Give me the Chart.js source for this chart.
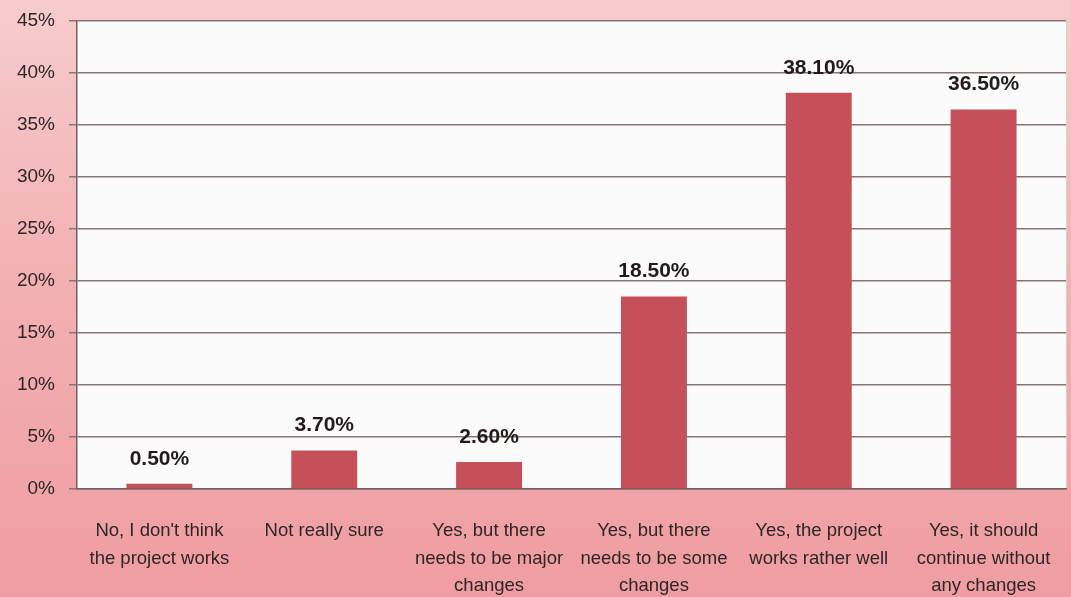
<!DOCTYPE html>
<html>
<head>
<meta charset="utf-8">
<script src="https://cdn.jsdelivr.net/npm/chart.js@4"></script>
<style>
  html, body { margin: 0; padding: 0; }
  body {
    width: 1071px; height: 597px; overflow: hidden;
    background: linear-gradient(to bottom, #f7cccd 0%, #f3b1b4 45%, #ef9da2 100%);
  }
  #wrap { position: relative; width: 1071px; height: 597px; }
</style>
</head>
<body>
<div id="wrap"><canvas id="myChart" width="1071" height="597"></canvas></div>
<script>
var answers = [
    ['No, I don\'t think', 'the project works'],
    ['Not really sure'],
    ['Yes, but there', 'needs to be major', 'changes'],
    ['Yes, but there', 'needs to be some', 'changes'],
    ['Yes, the project', 'works rather well'],
    ['Yes, it should', 'continue without', 'any changes']
];
var percents = [0.5, 3.7, 2.6, 18.5, 38.1, 36.5];
var yTicks = [0, 5, 10, 15, 20, 25, 30, 35, 40, 45];

// white plot area behind the grid
var plotBackground = {
    id: 'plotBackground',
    beforeDraw: function(chart) {
        var a = chart.chartArea, c = chart.ctx;
        c.save();
        c.fillStyle = '#fcfbfb';
        c.fillRect(a.left, a.top, a.right - a.left, a.bottom - a.top);
        c.strokeStyle = '#d9cfcf';
        c.lineWidth = 1;
        c.beginPath();
        c.moveTo(a.right + 0.5, a.top);
        c.lineTo(a.right + 0.5, a.bottom);
        c.stroke();
        c.restore();
    }
};

// percentage printed above each bar
var valueLabels = {
    id: 'valueLabels',
    afterDatasetsDraw: function(chart) {
        var c = chart.ctx;
        var meta = chart.getDatasetMeta(0);
        c.save();
        c.font = 'bold 21px "Liberation Sans", Arial, sans-serif';
        c.fillStyle = '#231b1b';
        c.textAlign = 'center';
        c.textBaseline = 'middle';
        meta.data.forEach(function(bar, i) {
            c.fillText(percents[i].toFixed(2) + '%', bar.x, bar.y - 25);
        });
        c.restore();
    }
};

var ctx = document.getElementById('myChart').getContext('2d');
var myChart = new Chart(ctx, {
    type: 'bar',
    data: {
        labels: answers,
        datasets: [{
            data: percents,
            backgroundColor: '#c6505a',
            categoryPercentage: 1,
            barPercentage: 0.4
        }]
    },
    options: {
        responsive: false,
        animation: false,
        layout: { padding: { top: 21, right: 5, left: 0, bottom: 0 } },
        plugins: {
            legend: { display: false },
            tooltip: { enabled: false }
        },
        scales: {
            x: {
                grid: { display: false, drawTicks: false },
                border: { color: '#6f6262', width: 1.5 },
                ticks: {
                    color: '#2e2626',
                    font: { family: '"Liberation Sans", Arial, sans-serif', size: 18.5, lineHeight: 1.5 },
                    padding: 28,
                    maxRotation: 0,
                    autoSkip: false
                },
                afterFit: function(scale) {
                    scale.height = 108;
                    scale.paddingLeft = 0;
                    scale.paddingRight = 0;
                }
            },
            y: {
                min: 0,
                max: 45,
                afterBuildTicks: function(scale) {
                    scale.ticks = yTicks.map(function(v) { return { value: v }; });
                },
                grid: { color: '#857675', lineWidth: 1.5, tickLength: 8 },
                border: { color: '#6f6262', width: 1.5 },
                ticks: {
                    color: '#2e2626',
                    font: { family: '"Liberation Sans", Arial, sans-serif', size: 19 },
                    padding: 14,
                    callback: function(v) { return v + '%'; }
                },
                afterFit: function(scale) {
                    scale.width = 77;
                    scale.paddingTop = 0;
                    scale.paddingBottom = 0;
                }
            }
        }
    },
    plugins: [plotBackground, valueLabels]
});
</script>
</body>
</html>
